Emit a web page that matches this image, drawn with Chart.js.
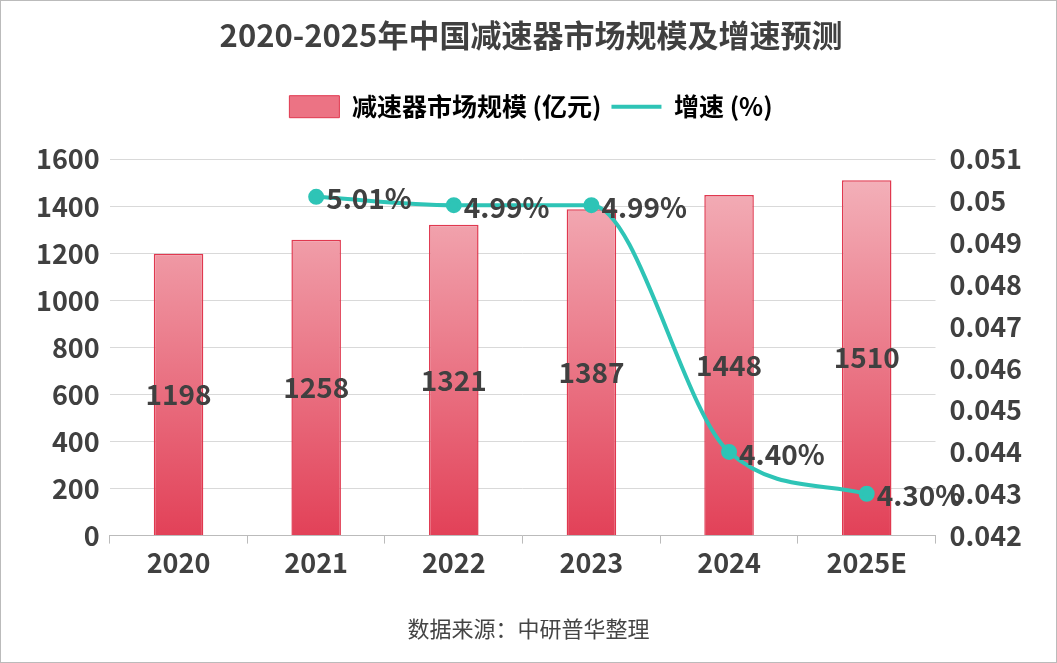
<!DOCTYPE html>
<html><head><meta charset="utf-8">
<script src="https://cdn.jsdelivr.net/npm/chart.js@4/dist/chart.umd.min.js"></script>
<style>
html,body{margin:0;padding:0;background:#fff;}
#wrap{position:relative;width:1055px;height:661px;border:1px solid #bbb;}
canvas{display:block;}
#src{position:absolute;left:0;width:100%;top:610px;text-align:center;font:22px "Noto Sans CJK SC";color:#444;}
</style></head><body>
<div id="wrap"><canvas id="c" width="1055" height="661"></canvas><div id="src">数据来源：中研普华整理</div></div>
<script>
const categories=["2020","2021","2022","2023","2024","2025E"];
const marketSize=[1198,1258,1321,1387,1448,1510];
const growth=[null,0.0501,0.0499,0.0499,0.044,0.043];
const growthLabels=["","5.01%","4.99%","4.99%","4.40%","4.30%"];
const FONT='"Noto Sans CJK SC","DejaVu Sans",sans-serif';
const labelPlugin={id:'lbl',afterDatasetsDraw(chart){
  const ctx=chart.ctx;ctx.save();
  ctx.font='bold 28px '+FONT;ctx.fillStyle='#404040';ctx.textBaseline='middle';
  const m0=chart.getDatasetMeta(0);
  m0.data.forEach((b,i)=>{ctx.textAlign='center';ctx.fillText(String(marketSize[i]),b.x,(b.y+b.base)/2);});
  const m1=chart.getDatasetMeta(1);
  m1.data.forEach((p,i)=>{if(growth[i]==null)return;ctx.textAlign='left';ctx.fillText(growthLabels[i],p.x+10,p.y+2);});
  ctx.restore();}};
const legendGap={id:'lgap',beforeInit(chart){const lg=chart.legend;const of=lg.fit;lg.fit=function(){of.call(lg);this.height+=30;};}};
new Chart(document.getElementById('c'),{
 data:{labels:categories,datasets:[
  {type:'bar',label:'减速器市场规模 (亿元)',data:marketSize,yAxisID:'y',order:2,
   backgroundColor:(c)=>{const a=c.chart.chartArea;if(!a)return '#e8586b';const g=c.chart.ctx.createLinearGradient(0,a.top,0,a.bottom);g.addColorStop(0,'#f4b6be');g.addColorStop(1,'#e24158');return g;},
   borderColor:'#e0384f',borderWidth:1.5,barPercentage:0.36,categoryPercentage:1},
  {type:'line',label:'增速 (%)',data:growth,yAxisID:'y1',order:1,borderColor:'#2ec4b6',backgroundColor:'#2ec4b6',
   borderWidth:4,pointRadius:6,pointHoverRadius:6,cubicInterpolationMode:'monotone',spanGaps:true}
 ]},
 options:{responsive:false,animation:false,
  layout:{padding:{left:25,right:20,top:0,bottom:80}},
  plugins:{title:{display:true,text:'2020-2025年中国减速器市场规模及增速预测',font:{family:FONT,size:31,weight:'bold'},color:'#404040',padding:{top:16,bottom:30}},
   legend:{labels:{font:{family:FONT,size:25,weight:'bold'},color:'#404040',usePointStyle:true,pointStyleWidth:50,
     generateLabels:(ch)=>[{text:'减速器市场规模 (亿元)',fillStyle:'#ec7384',strokeStyle:'#e0384f',lineWidth:1,pointStyle:'rect',datasetIndex:0},
                           {text:'增速 (%)',fillStyle:'#2ec4b6',strokeStyle:'#2ec4b6',lineWidth:4,pointStyle:'line',datasetIndex:1}],
     boxWidth:50,boxHeight:22}},
   tooltip:{enabled:false}},
  scales:{
   x:{grid:{display:true,drawOnChartArea:false,color:'#bbb',tickLength:8},border:{color:'#bbb'},ticks:{font:{family:FONT,size:27,weight:'bold'},color:'#404040'}},
   y:{min:0,max:1600,ticks:{stepSize:200,font:{family:FONT,size:27,weight:'bold'},color:'#404040',padding:10,callback:v=>String(v)},grid:{color:'#d9d9d9',drawTicks:false},border:{display:false}},
   y1:{position:'right',min:0.042,max:0.051,ticks:{stepSize:0.001,font:{family:FONT,size:27,weight:'bold'},color:'#404040',padding:14,callback:v=>String(+v.toFixed(3))},grid:{display:false,drawTicks:false},border:{display:false}}
  }},
 plugins:[labelPlugin,legendGap]
});
</script></body></html>
